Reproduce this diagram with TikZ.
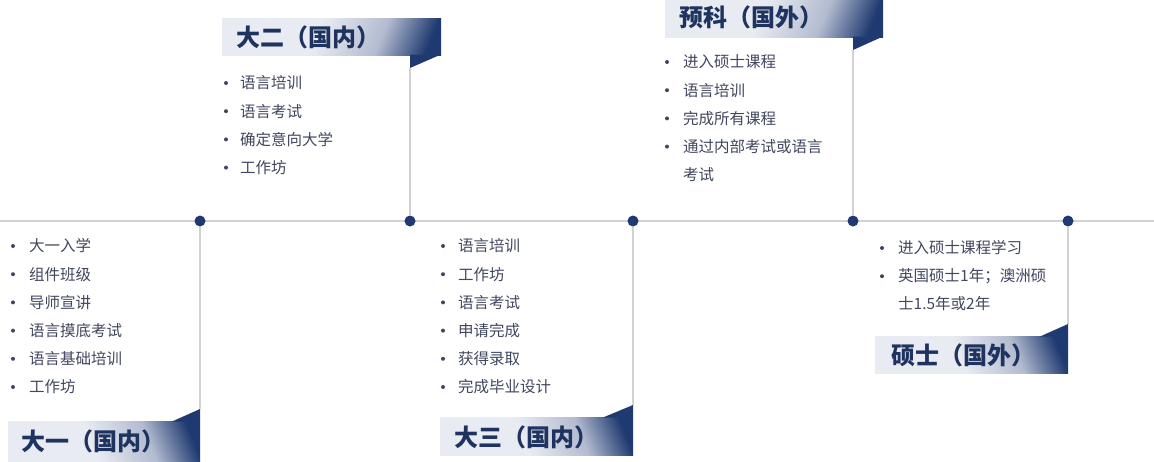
\documentclass[tikz,border=0pt]{standalone}
\usepackage{fontspec}
\setmainfont{Noto Sans CJK SC}
\definecolor{navy}{HTML}{1F3A70}
\definecolor{txt}{HTML}{40465E}
\definecolor{labtxt}{HTML}{1E335F}
\definecolor{linec}{HTML}{D2D2D4}
\definecolor{rl}{HTML}{E8EBF1}
\definecolor{rm}{HTML}{B3BBD0}
\definecolor{rd}{HTML}{1F3A70}
\pgfdeclarehorizontalshading{ribbon}{100bp}{color(0bp)=(rl); color(46bp)=(rl); color(64bp)=(rm); color(78bp)=(rd); color(100bp)=(rd)}
\tikzset{
  item/.style={anchor=west, inner sep=0pt, text=txt, font=\fontsize{15.5}{18}\selectfont},
  lab/.style={anchor=west, inner sep=0pt, text=labtxt, font=\fontsize{24}{26}\selectfont\bfseries},
  dotc/.style={circle, fill=navy, inner sep=0pt, minimum size=11pt},
  vline/.style={draw=linec, line width=1.6pt},
  bul/.style={fill=txt},
}
\begin{document}
\begin{tikzpicture}[x=1pt,y=-1pt]
\useasboundingbox (0,0) rectangle (1154,461);
% timeline
\coordinate (tl) at (0,221);
\coordinate (tr) at (1154,221);
\draw[draw=linec, line width=1.8pt] (tl) -- (tr);
% box corners
\coordinate (c1) at (200,409);
\coordinate (c2) at (410,68);
\coordinate (c3) at (633,405);
\coordinate (c4) at (853,50);
\coordinate (c5) at (1068,324);
% ribbons
\shade[shading=ribbon, shading angle=22] (8,421) rectangle (200,462);
\fill[navy] (172,421.5) -- (200,421.5) -- (200,409) -- cycle;
\shade[shading=ribbon, shading angle=-22] (222,18) rectangle (441,55);
\fill[navy] (410,54.5) -- (441,54.5) -- (410,68) -- cycle;
\shade[shading=ribbon, shading angle=22] (440,417) rectangle (633,455);
\fill[navy] (603,417.5) -- (633,417.5) -- (633,405) -- cycle;
\shade[shading=ribbon, shading angle=-22] (665,-4) rectangle (883,37);
\fill[navy] (853,36.5) -- (883,36.5) -- (853,50) -- cycle;
\shade[shading=ribbon, shading angle=22] (875,336) rectangle (1068,373);
\fill[navy] (1040,336.5) -- (1068,336.5) -- (1068,324) -- cycle;
% dots
\node[dotc] (d1) at (200,221) {};
\node[dotc] (d2) at (410,221) {};
\node[dotc] (d3) at (633,221) {};
\node[dotc] (d4) at (853,221) {};
\node[dotc] (d5) at (1068,221) {};
\draw[vline] (d1) -- (c1);
\draw[vline] (d2) -- (c2);
\draw[vline] (d3) -- (c3);
\draw[vline] (d4) -- (c4);
\draw[vline] (d5) -- (c5);
% labels
\node[lab] (l1) at (21,441) {大一（国内）};
\node[lab] (l2) at (236,37) {大二（国内）};
\node[lab] (l3) at (454,437) {大三（国内）};
\node[lab] (l4) at (679,17) {预科（国外）};
\node[lab] (l5) at (891,355) {硕士（国外）};
% lists
\foreach \t [count=\i] in {大一入学,组件班级,导师宣讲,语言摸底考试,语言基础培训,工作坊}{
  \node[item] (a\i) at (29,{246+28.2*(\i-1)}) {\t};
  \fill[bul] (13,{246+28.2*(\i-1)}) circle (2);
}
\foreach \t [count=\i] in {语言培训,语言考试,确定意向大学,工作坊}{
  \node[item] (b\i) at (240,{83+28.2*(\i-1)}) {\t};
  \fill[bul] (226,{83+28.2*(\i-1)}) circle (2);
}
\foreach \t [count=\i] in {语言培训,工作坊,语言考试,申请完成,获得录取,完成毕业设计}{
  \node[item] (e\i) at (458,{246+28.2*(\i-1)}) {\t};
  \fill[bul] (443,{246+28.2*(\i-1)}) circle (2);
}
\foreach \t [count=\i] in {进入硕士课程,语言培训,完成所有课程,通过内部考试或语言}{
  \node[item] (f\i) at (683,{62+28.2*(\i-1)}) {\t};
  \fill[bul] (667,{62+28.2*(\i-1)}) circle (2);
}
\node[item] (f5) at (683,175) {考试};
\foreach \t [count=\i] in {进入硕士课程学习,英国硕士1年；澳洲硕}{
  \node[item] (g\i) at (898,{248+28.2*(\i-1)}) {\t};
  \fill[bul] (882,{248+28.2*(\i-1)}) circle (2);
}
\node[item] (g3) at (898,304) {士1.5年或2年};
\end{tikzpicture}
\end{document}
